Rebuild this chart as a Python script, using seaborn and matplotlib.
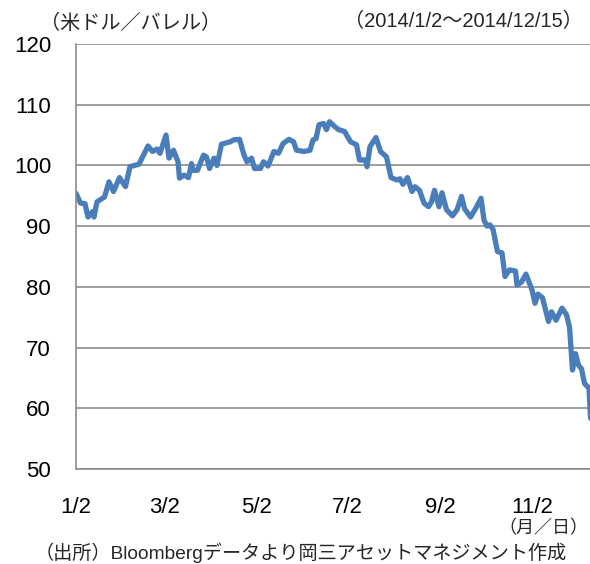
import pandas as pd
import seaborn as sns
import matplotlib.pyplot as plt

# WTI原油価格（米ドル／バレル）, 2014年, 図から読み取り
dates = ['01-02', '01-05', '01-08', '01-10', '01-13', '01-14', '01-16', '01-21', '01-24', '01-27',
         '01-31', '02-04', '02-07', '02-13', '02-19', '02-22', '02-25', '02-27', '03-03', '03-05',
         '03-08', '03-11', '03-12', '03-15', '03-18', '03-20', '03-21', '03-24', '03-28', '03-30',
         '04-01', '04-04', '04-06', '04-09', '04-15', '04-17', '04-21', '04-24', '04-26', '04-29',
         '05-01', '05-05', '05-07', '05-10', '05-14', '05-17', '05-20', '05-24', '05-27', '05-29',
         '06-03', '06-07', '06-09', '06-11', '06-13', '06-16', '06-18', '06-20', '06-23', '06-26',
         '06-30', '07-04', '07-08', '07-10', '07-14', '07-15', '07-17', '07-21', '07-24', '07-28',
         '07-31', '08-04', '08-06', '08-08', '08-11', '08-14', '08-16', '08-19', '08-22', '08-25',
         '08-27', '08-29', '09-01', '09-03', '09-06', '09-10', '09-13', '09-16', '09-18', '09-22',
         '09-25', '09-29', '10-01', '10-03', '10-05', '10-07', '10-10', '10-13', '10-15', '10-18',
         '10-22', '10-23', '10-26', '10-29', '11-02', '11-04', '11-06', '11-09', '11-13', '11-15',
         '11-18', '11-22', '11-25', '11-27', '11-29', '12-01', '12-03', '12-05', '12-07', '12-10',
         '12-11', '12-15']
prices = [95.4, 93.8, 93.7, 91.5, 92.4, 91.5, 94.0, 94.8, 97.3, 95.7,
          98.0, 96.5, 99.8, 100.2, 103.2, 102.3, 102.7, 102.0, 105.0, 101.2,
          102.5, 100.6, 97.9, 98.4, 98.0, 100.3, 99.2, 99.2, 101.7, 101.4,
          99.5, 101.2, 100.0, 103.5, 103.9, 104.2, 104.3, 101.7, 100.6, 101.2,
          99.5, 99.5, 100.6, 99.9, 102.3, 102.0, 103.6, 104.3, 103.9, 102.5,
          102.3, 102.5, 104.2, 104.4, 106.7, 106.9, 105.9, 107.2, 106.5, 105.9,
          105.6, 103.9, 103.4, 100.9, 100.9, 99.8, 103.1, 104.6, 102.3, 101.4,
          98.0, 97.6, 97.8, 96.9, 98.0, 95.7, 96.5, 95.9, 93.8, 93.2,
          94.0, 95.9, 93.2, 95.5, 92.7, 91.7, 92.7, 94.9, 92.9, 91.5,
          92.7, 94.6, 91.0, 90.0, 90.2, 89.5, 85.8, 85.6, 81.7, 82.8,
          82.6, 80.3, 80.8, 82.1, 79.5, 77.3, 78.8, 78.2, 74.3, 75.9,
          74.5, 76.5, 75.4, 73.4, 66.3, 69.0, 67.1, 66.5, 64.1, 63.3,
          58.5, 55.9]

tick_dates = ['01-02', '03-02', '05-02', '07-02', '09-02', '11-02']
tick_labels = ['1/2', '3/2', '5/2', '7/2', '9/2', '11/2']

df = pd.DataFrame({'date': pd.to_datetime(['2014-' + d for d in dates]), 'price': prices})

sns.set_style('white')
plt.rcParams['font.family'] = ['Liberation Sans', 'Noto Sans CJK JP', 'DejaVu Sans']

fig = plt.figure(figsize=(5.9, 5.64), dpi=100)
# 右端は画像の外まで伸びる（元画像が切れている）
ax = fig.add_axes([76 / 590, 95 / 564, 520.5 / 590, 425 / 564])

sns.lineplot(data=df, x='date', y='price', ax=ax, color='#4A7EBB', linewidth=3.8)

ax.set_xlim(pd.Timestamp('2014-01-02'), pd.Timestamp('2014-12-15'))
ax.set_ylim(50, 120)
ax.set_yticks(range(50, 121, 10))
ax.set_xticks(pd.to_datetime(['2014-' + d for d in tick_dates]))
ax.set_xticklabels(tick_labels)
ax.set_xlabel('')
ax.set_ylabel('')

ax.yaxis.grid(True, color='#8C8C8C', linewidth=1.2)
ax.set_axisbelow(True)
for s in ['top', 'right']:
    ax.spines[s].set_visible(False)
for s in ['left', 'bottom']:
    ax.spines[s].set_color('#8C8C8C')
    ax.spines[s].set_linewidth(1.2)

ax.tick_params(axis='both', direction='out', length=6, width=1.2, color='#8C8C8C', labelsize=16, labelcolor='black')
ax.tick_params(axis='y', pad=12)
ax.tick_params(axis='x', pad=14)

fig.text(40 / 590, 1 - 23 / 564, '（米ドル／バレル）', fontsize=14.5, va='center', ha='left')
fig.text(583 / 590, 1 - 21 / 564, '（2014/1/2～2014/12/15）', fontsize=14.5, va='center', ha='right')
fig.text(588 / 590, 1 - 529 / 564, '（月／日）', fontsize=13, va='center', ha='right')
fig.text(301 / 590, 1 - 553 / 564, '（出所）Bloombergデータより岡三アセットマネジメント作成', fontsize=13.8,
         va='center', ha='center')

fig.savefig('out.png', dpi=100)
